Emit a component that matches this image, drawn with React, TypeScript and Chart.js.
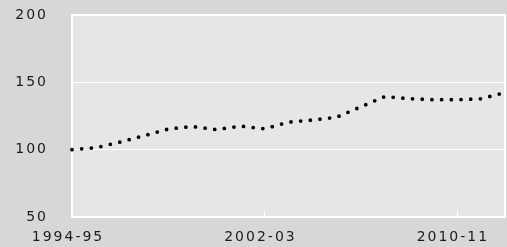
import React, { useEffect, useRef } from "react";
import { Chart, registerables } from "chart.js";

Chart.register(...registerables);

const years = [
  "1994-95", "1995-96", "1996-97", "1997-98", "1998-99", "1999-00", "2000-01",
  "2001-02", "2002-03", "2003-04", "2004-05", "2005-06", "2006-07", "2007-08",
  "2008-09", "2009-10", "2010-11", "2011-12", "2012-13",
];
const indexValues = [
  100, 101.5, 105.6, 110.4, 115.3, 117.2, 114.9, 117.5, 115.5, 120.4,
  122, 124.1, 131.8, 139.4, 137.9, 137.1, 137.1, 137.8, 142.4,
];
const shownLabels = ["1994-95", "2002-03", "2010-11"];
const yTicks = [50, 100, 150, 200];

const OUTER_BG = "#d6d7d9";
const PLOT_BG = "#e5e6e8";
const TEXT = "#1c1c1c";

const plotPlugin = {
  id: "plotDecor",
  beforeDraw(chart: any) {
    const { ctx, chartArea: a } = chart;
    ctx.save();
    ctx.fillStyle = PLOT_BG;
    ctx.fillRect(a.left, a.top, a.right - a.left, a.bottom - a.top);
    ctx.restore();
    (ctx as any).letterSpacing = "2px";
  },
  beforeDatasetsDraw(chart: any) {
    const { ctx, chartArea: a, scales } = chart;
    ctx.save();
    ctx.strokeStyle = "#ffffff";
    ctx.lineWidth = 2;
    ctx.strokeRect(a.left, a.top, a.right - a.left, a.bottom - a.top);
    ctx.lineWidth = 1;
    shownLabels.forEach((lab) => {
      const i = years.indexOf(lab);
      if (i <= 0) return;
      const x = Math.round(scales.x.getPixelForValue(i)) + 0.5;
      ctx.beginPath();
      ctx.moveTo(x, a.bottom);
      ctx.lineTo(x, a.bottom - 6);
      ctx.stroke();
    });
    ctx.restore();
  },
};

export default function App() {
  const ref = useRef<HTMLCanvasElement | null>(null);
  useEffect(() => {
    if (!ref.current) return;
    const chart = new Chart(ref.current, {
      type: "line",
      data: {
        labels: years,
        datasets: [
          {
            data: indexValues,
            borderColor: "#000000",
            borderWidth: 3.8,
            borderDash: [0, 9.7],
            borderCapStyle: "round",
            pointRadius: 0,
            tension: 0,
            fill: false,
          },
        ],
      },
      options: {
        animation: false,
        responsive: true,
        maintainAspectRatio: false,
        devicePixelRatio: 1,
        layout: { padding: 0 },
        plugins: { legend: { display: false }, tooltip: { enabled: false } },
        scales: {
          x: {
            type: "category",
            offset: false,
            grid: { display: false, drawTicks: false },
            border: { display: false },
            afterFit(scale: any) {
              scale.height = 30;
              scale.paddingLeft = 0;
              scale.paddingRight = 2;
            },
            ticks: {
              autoSkip: false,
              maxRotation: 0,
              padding: 12,
              labelOffset: -4,
              color: TEXT,
              font: { family: "DejaVu Sans", size: 14 },
              callback: (_v: any, i: number) =>
                shownLabels.includes(years[i]) ? years[i] : "",
            },
          },
          y: {
            min: 50,
            max: 200,
            afterBuildTicks(scale: any) {
              scale.ticks = yTicks.map((v) => ({ value: v }));
            },
            afterFit(scale: any) {
              scale.width = 72;
              scale.paddingTop = 15;
              scale.paddingBottom = 0;
            },
            grid: { color: "#ffffff", lineWidth: 1, drawTicks: false },
            border: { display: false },
            ticks: {
              padding: 24,
              color: TEXT,
              font: { family: "DejaVu Sans", size: 14 },
            },
          },
        },
      },
      plugins: [plotPlugin],
    });
    return () => chart.destroy();
  }, []);
  return (
    <div style={{ position: "fixed", inset: 0, background: OUTER_BG }}>
      <canvas ref={ref} />
    </div>
  );
}
